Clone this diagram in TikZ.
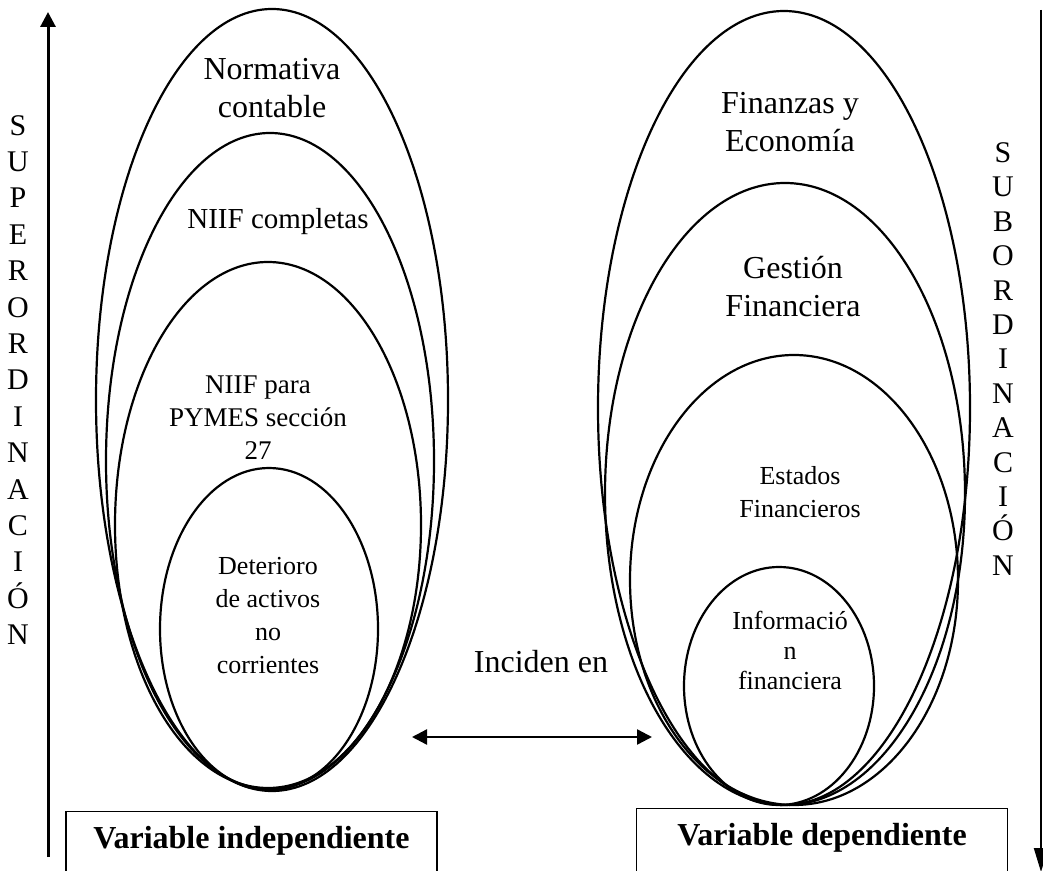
\documentclass[tikz,border=0pt]{standalone}
\usepackage{fontspec}
\setmainfont{Liberation Serif}
\usetikzlibrary{arrows.meta}

\begin{document}
\begin{tikzpicture}[x=0.5pt,y=-0.5pt,
	every node/.style={align=center,inner sep=0pt},
	big/.style={font=\fontsize{16}{19}\selectfont},
	mid/.style={font=\fontsize{13.5}{16.5}\selectfont},
	small/.style={font=\fontsize{13}{16.5}\selectfont},
	letters/.style={font=\fontsize{15}{18.2}\selectfont},
	ring/.style={line width=1.1pt},
	varbox/.style={draw,line width=0.6pt,minimum width=185.5pt,minimum height=40pt,anchor=north,text depth=14pt,font=\fontsize{16}{19}\selectfont\bfseries},
	axis/.style={line width=1.5pt,-{Triangle[length=7.5pt,width=7.5pt]}}
	]
	\useasboundingbox (0,0) rectangle (1043,871);
	\clip (0,0) rectangle (1043,871);
	% independent variable
	\draw[ring] (272,400) ellipse [x radius=176, y radius=391];
	\draw[ring] (270,461) ellipse [x radius=164, y radius=328];
	\draw[ring] (268,525) ellipse [x radius=153, y radius=263];
	\draw[ring] (269,629) ellipse [x radius=109, y radius=161];
	\node[big] (nc) at (272,88) {Normativa\\contable};
	\node[font=\fontsize{14.5}{17}\selectfont] (nf) at (278,222) {NIIF completas};
	\node[mid] (np) at (258,418) {NIIF para\\PYMES sección\\27};
	\node[small] (da) at (268,616) {Deterioro\\de activos\\no\\corrientes};
	% dependent variable
	\draw[ring] (784,408) ellipse [x radius=186, y radius=397];
	\draw[ring] (785,494) ellipse [x radius=180, y radius=311];
	\draw[ring] (794,580) ellipse [x radius=164, y radius=225];
	\draw[ring] (779,686) ellipse [x radius=95, y radius=119];
	\node[big] (fe) at (790,122) {Finanzas y\\Economía};
	\node[big] (gf) at (793,287) {Gestión\\Financiera};
	\node[small] (ef) at (800,492) {Estados\\Financieros};
	\node[small,font=\fontsize{13}{15}\selectfont] (inf) at (790,650) {Informació\\n\\financiera};
	% relation
	\node[big] (inc) at (541,662) {Inciden en};
	\coordinate (ia) at (412,737);
	\coordinate (ib) at (652,737);
	\draw[line width=1.2pt,{Triangle[length=7.5pt,width=7.5pt]}-{Triangle[length=7.5pt,width=7.5pt]}] (ia) -- (ib);
	% boxes
	\node[varbox] (vi) at (251.5,811) {Variable independiente};
	\node[varbox] (vd) at (822,808) {Variable dependiente};
	% hierarchy arrows
	\coordinate (supb) at (48,857);
	\coordinate (supt) at (48,12);
	\draw[axis] (supb) -- (supt);
	\node[letters] (sup) at (18,380) {S\\U\\P\\E\\R\\O\\R\\D\\I\\N\\A\\C\\I\\Ó\\N};
	\coordinate (subt) at (1041,10);
	\coordinate (subb) at (1041,872);
	\draw[line width=1pt,-{Triangle[length=12pt,width=7pt]}] (subt) -- (subb);
	\node[letters,font=\fontsize{15}{17.2}\selectfont] (sub) at (1003,359) {S\\U\\B\\O\\R\\D\\I\\N\\A\\C\\I\\Ó\\N};
\end{tikzpicture}
\end{document}
